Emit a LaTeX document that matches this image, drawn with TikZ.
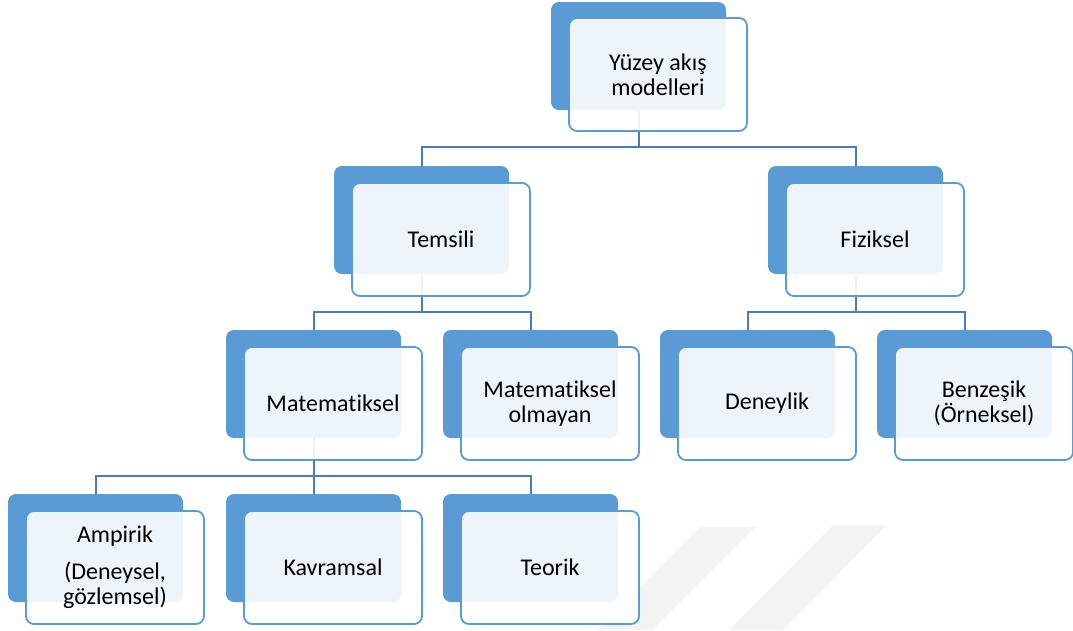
\documentclass[tikz,border=0pt]{standalone}
\usepackage{fontspec}
\setmainfont{Carlito}[Ligatures=NoCommon]
\definecolor{accent}{HTML}{5B9BD5}
\definecolor{connc}{HTML}{4A7DB5}
\definecolor{wmark}{HTML}{F3F3F3}
\begin{document}
\begin{tikzpicture}[x=1pt,y=-1pt,
  back/.style={anchor=north west, fill=accent, rounded corners=8pt, minimum width=175pt, minimum height=108pt, inner sep=0pt, outer sep=0pt},
  front/.style={anchor=north west, fill=white, fill opacity=0.9, text opacity=1, draw=accent, draw opacity=1, line width=1.8pt, rounded corners=8pt, minimum width=178pt, minimum height=113pt, inner sep=0pt, outer sep=0pt, align=center, font=\fontsize{24}{25}\selectfont, text=black},
  conn/.style={draw=connc, line width=2pt}]
\useasboundingbox (0,0) rectangle (1073,630);
% watermark bands
\fill[wmark] (700,527) -- (755,527) -- (652,630) -- (597,630) -- cycle;
\fill[wmark] (833,525) -- (887,525) -- (783,630) -- (729,630) -- cycle;
% back boxes
\node[back] (b1) at (551,2) {};
\node[back] (b2) at (334,166) {};
\node[back] (b3) at (768,166) {};
\node[back] (b4) at (226,330) {};
\node[back] (b5) at (443,330) {};
\node[back] (b6) at (660,330) {};
\node[back] (b7) at (877,330) {};
\node[back] (b8) at (8,494) {};
\node[back] (b9) at (226,494) {};
\node[back] (b10) at (443,494) {};
% connectors
\draw[conn] (b1.south) -- ++(0,37) -| (b2.north);
\draw[conn] (b1.south) -- ++(0,37) -| (b3.north);
\draw[conn] (b2.south) -- ++(0,38) -| (b4.north);
\draw[conn] (b2.south) -- ++(0,38) -| (b5.north);
\draw[conn] (b3.south) -- ++(0,38) -| (b6.north);
\draw[conn] (b3.south) -- ++(0,38) -| (b7.north);
\draw[conn] (b4.south) -- ++(0,38) -| (b8.north);
\draw[conn] (b4.south) -- ++(0,38) -| (b9.north);
\draw[conn] (b4.south) -- ++(0,38) -| (b10.north);
% front boxes
\node[front] (f1) at (569,18) {Yüzey akış\\modelleri};
\node[front] (f2) at (352,183) {Temsili};
\node[front] (f3) at (786,183) {Fiziksel};
\node[front] (f4) at (244,347) {Matematiksel};
\node[front] (f5) at (461,347) {Matematiksel\\olmayan};
\node[front] (f6) at (678,347) {Deneylik};
\node[front] (f7) at (895,347) {Benzeşik\\(Örneksel)};
\node[front] (f8) at (26,511) {Ampirik\\[12pt](Deneysel,\\gözlemsel)};
\node[front] (f9) at (244,511) {Kavramsal};
\node[front] (f10) at (461,511) {Teorik};
\end{tikzpicture}
\end{document}
